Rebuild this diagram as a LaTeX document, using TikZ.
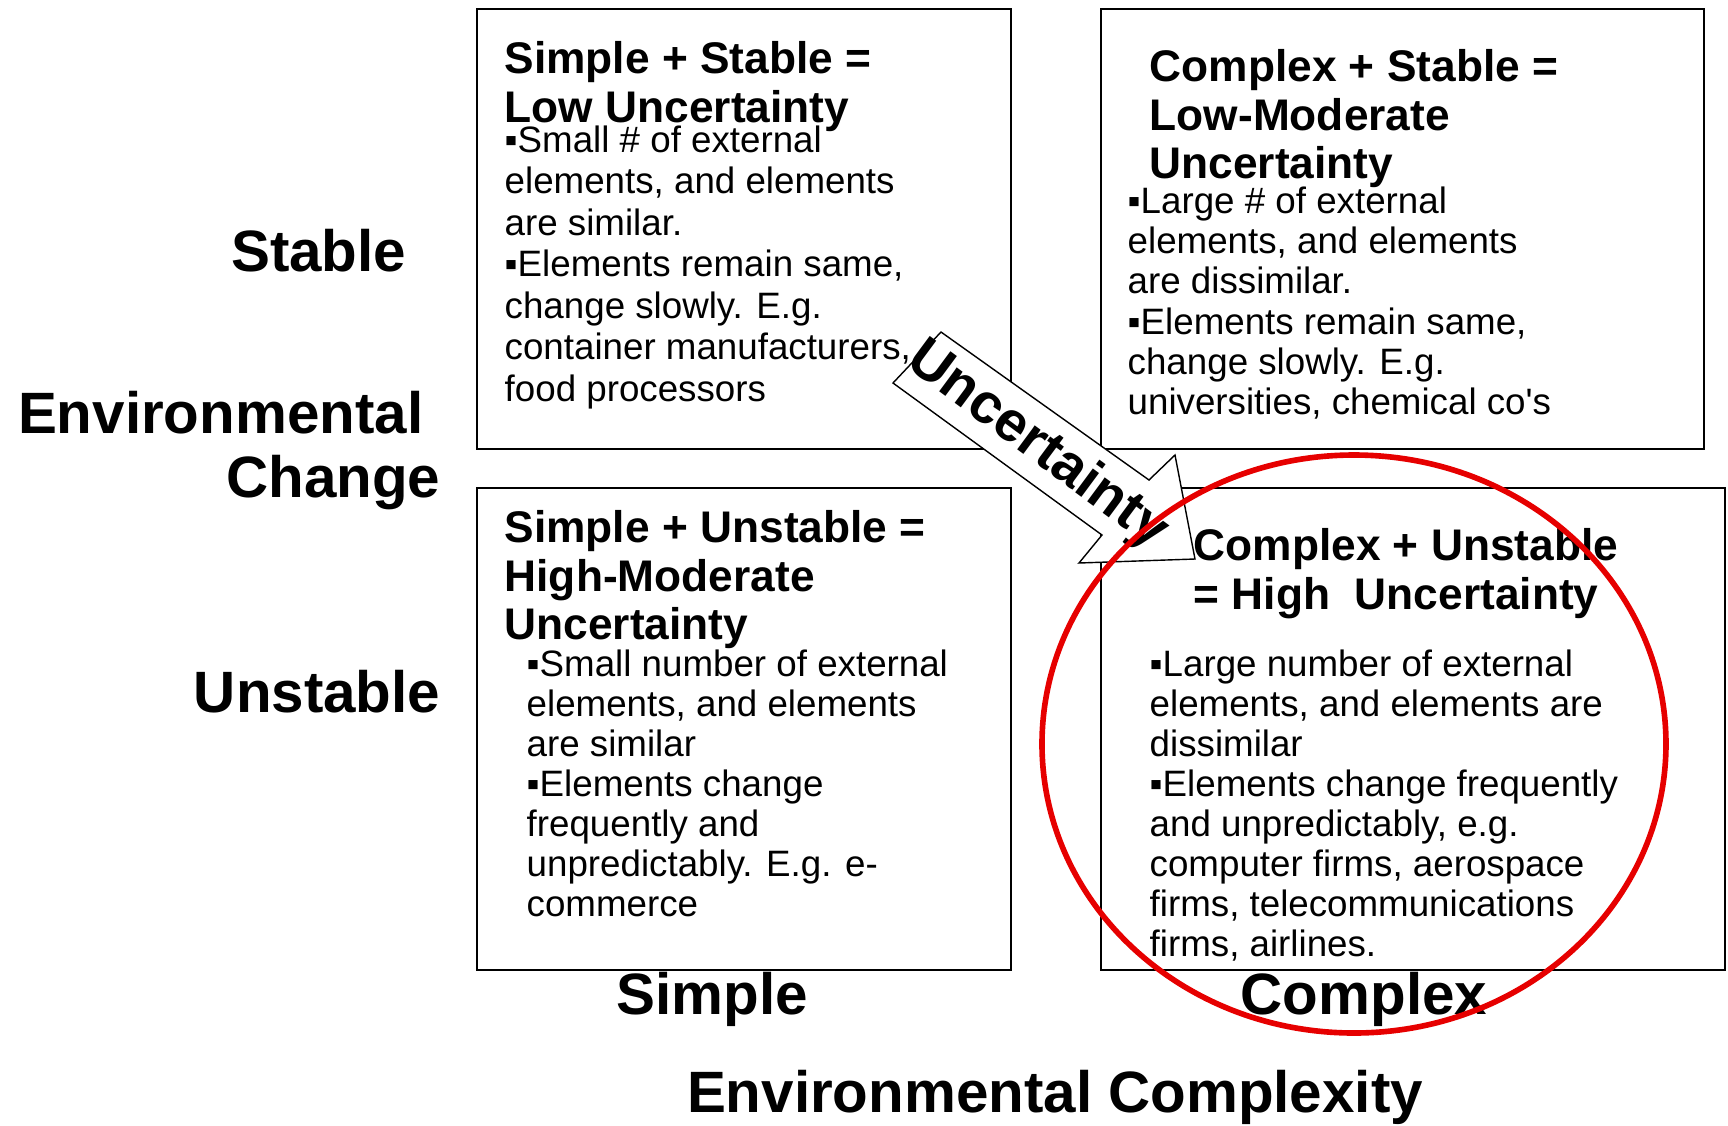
\documentclass[tikz,border=0pt]{standalone}
\usepackage{fontspec}
\setmainfont{Liberation Sans}
\usetikzlibrary{positioning}
\definecolor{ringred}{RGB}{230,0,0}

\begin{document}
\begin{tikzpicture}[
    quad/.style={draw, line width=0.7pt, inner sep=0pt, outer sep=0pt},
    headtext/.style={inner sep=0pt, align=left, anchor=north west, font=\bfseries\fontsize{12.6}{13.8}\selectfont},
    bodytext/.style={inner sep=0pt, align=left, anchor=north west, font=\fontsize{10.45}{11.4}\selectfont},
    axislabel/.style={inner sep=0pt, font=\bfseries\fontsize{16.6}{18}\selectfont}]
    \useasboundingbox (0,0) rectangle (17.28,-11.25);

    % Define blocks
    \node [quad, minimum width=5.34cm, minimum height=4.40cm] (simstab) at (7.44,-2.29) {};
    \node [quad, minimum width=6.03cm, minimum height=4.40cm] (compstab) at (14.025,-2.29) {};
    \node [quad, minimum width=5.34cm, minimum height=4.82cm] (simunst) at (7.44,-7.29) {};
    \node [quad, minimum width=6.24cm, minimum height=4.82cm] (compunst) at (14.13,-7.29) {};

    % Texts inside the blocks
    \node [headtext] (simstabhead) at ([xshift=0.27cm, yshift=-0.32cm]simstab.north west) {Simple + Stable =\\Low Uncertainty};
    \node [bodytext, font=\fontsize{10.45}{11.8}\selectfont] (simstabbody) at ([xshift=0.27cm, yshift=-1.16cm]simstab.north west) {▪Small \# of external\\elements, and elements\\are similar.\\▪Elements remain same,\\change slowly. E.g.\\container manufacturers,\\food processors};

    \node [headtext] (compstabhead) at ([xshift=0.48cm, yshift=-0.40cm]compstab.north west) {Complex + Stable =\\Low-Moderate\\Uncertainty};
    \node [bodytext] (compstabbody) at ([xshift=0.26cm, yshift=-1.775cm]compstab.north west) {▪Large \# of external\\elements, and elements\\are dissimilar.\\▪Elements remain same,\\change slowly. E.g.\\universities, chemical co\textquotesingle s};

    \node [headtext] (simunsthead) at ([xshift=0.27cm, yshift=-0.22cm]simunst.north west) {Simple + Unstable =\\High-Moderate\\Uncertainty};
    \node [bodytext] (simunstbody) at ([xshift=0.49cm, yshift=-1.61cm]simunst.north west) {▪Small number of external\\elements, and elements\\are similar\\▪Elements change\\frequently and\\unpredictably. E.g. e-\\commerce};

    \node [headtext] (compunsthead) at ([xshift=0.92cm, yshift=-0.40cm]compunst.north west) {Complex + Unstable\\= High~ Uncertainty};
    \node [bodytext] (compunstbody) at ([xshift=0.48cm, yshift=-1.61cm]compunst.north west) {▪Large number of external\\elements, and elements are\\dissimilar\\▪Elements change frequently\\and unpredictably, e.g.\\computer firms, aerospace\\firms, telecommunications\\firms, airlines.};

    % Axis labels
    \node [axislabel, anchor=base east] (stablbl) at (4.07,-2.71) {Stable};
    \node [axislabel, anchor=base east] (envlbl) at (4.24,-4.33) {Environmental};
    \node [axislabel, anchor=base east] (chglbl) at (4.41,-4.97) {Change};
    \node [axislabel, anchor=base east] (unstlbl) at (4.41,-7.12) {Unstable};
    \node [axislabel, anchor=base] (simlbl) at (7.12,-10.14) {Simple};
    \node [axislabel, anchor=base] (complbl) at (13.64,-10.14) {Complex};
    \node [axislabel, anchor=base] (envcomplbl) at (10.55,-11.12) {Environmental Complexity};

    % Uncertainty arrow
    \draw [line width=0.4pt, fill=white] (9.41,-3.32) -- (11.49,-4.80) -- (11.75,-4.55) -- (11.95,-5.59) -- (10.79,-5.63) -- (11.02,-5.35) -- (8.93,-3.83) -- cycle;
    \node [axislabel, font=\bfseries\fontsize{16}{18}\selectfont, rotate=-36.5] (uncert) at (10.37,-4.46) {Uncertainty};

    % Highlight ring
    \draw [ringred, line width=1.6pt] (13.54,-7.44) ellipse [x radius=3.12, y radius=2.89];
\end{tikzpicture}
\end{document}
